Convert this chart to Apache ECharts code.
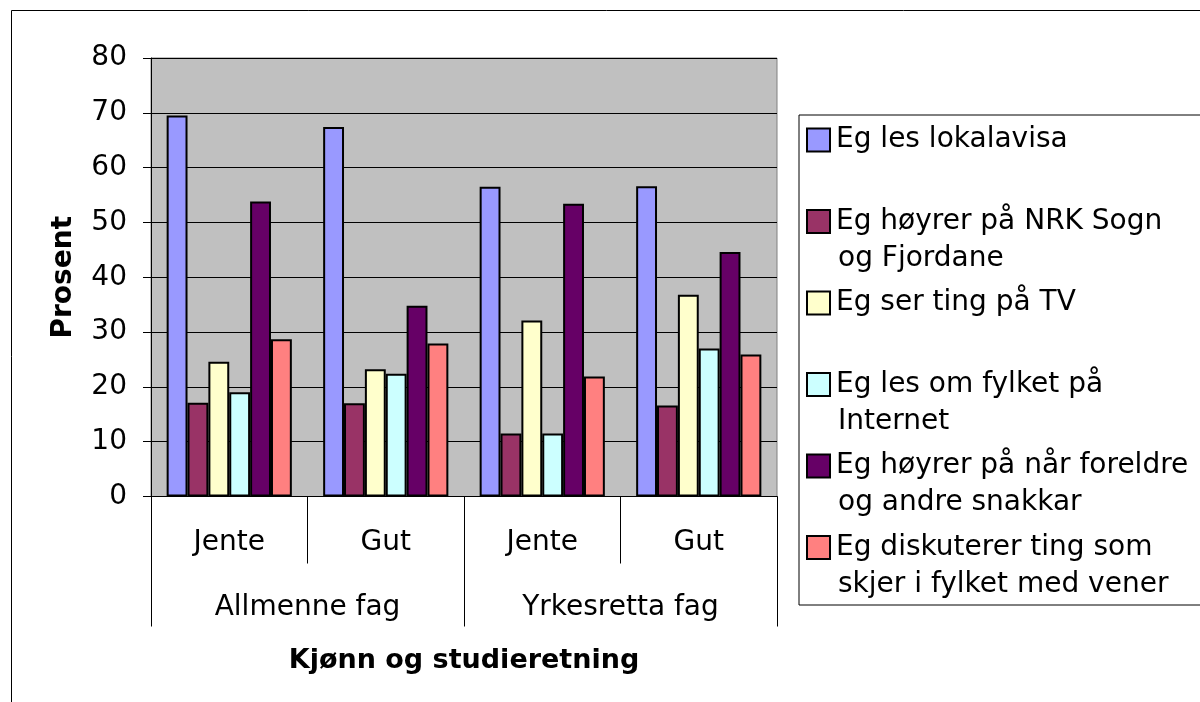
<!DOCTYPE html>
<html>
<head>
<meta charset="utf-8">
<script src="https://cdn.jsdelivr.net/npm/echarts@6/dist/echarts.min.js"></script>
<style>html,body{margin:0;padding:0;background:#fff}#c{width:1200px;height:702px}</style>
</head>
<body>
<div id="c"></div>
<script>
const categories = ['Jente', 'Gut', 'Jente', 'Gut'];
const groups = ['Allmenne fag', 'Yrkesretta fag'];
const yTicks = [0, 10, 20, 30, 40, 50, 60, 70, 80];
const seriesNames = [
  'Eg les lokalavisa',
  'Eg høyrer på NRK Sogn og Fjordane',
  'Eg ser ting på TV',
  'Eg les om fylket på Internet',
  'Eg høyrer på når foreldre og andre snakkar',
  'Eg diskuterer ting som skjer i fylket med vener'
];
const legendLines = [
  ['Eg les lokalavisa', ' '],
  ['Eg høyrer på NRK Sogn', 'og Fjordane'],
  ['Eg ser ting på TV', ' '],
  ['Eg les om fylket på', 'Internet'],
  ['Eg høyrer på når foreldre', 'og andre snakkar'],
  ['Eg diskuterer ting som', 'skjer i fylket med vener']
];
const lokalavisa = [69.5, 67.4, 56.5, 56.6];
const nrk = [17.1, 17.0, 11.5, 16.6];
const tv = [24.6, 23.2, 32.1, 36.8];
const internet = [19.0, 22.4, 11.5, 27.0];
const foreldre = [53.8, 34.8, 53.4, 44.6];
const vener = [28.7, 27.9, 21.9, 25.9];
const colors = ['#9999FF', '#993366', '#FFFFCC', '#CCFFFF', '#660066', '#FF8080'];

const FONT = 'DejaVu Sans';
const values = [lokalavisa, nrk, tv, internet, foreldre, vener];

const rich = {
  g: { width: 7, height: 21 },
  ind: { width: 30, height: 21 },
  t: { fontFamily: FONT, fontSize: 28, lineHeight: 37, color: '#000' }
};
colors.forEach((c, i) => {
  rich['m' + i] = { width: 21, height: 21, backgroundColor: c, borderColor: '#000', borderWidth: 2 };
});

const chart = echarts.init(document.getElementById('c'));
chart.setOption({
  animation: false,
  color: colors,
  graphic: [{
    type: 'rect',
    shape: { x: 11.5, y: 10.5, width: 1300, height: 900 },
    style: { fill: 'none', stroke: '#000', lineWidth: 1 },
    z: -10
  }],
  grid: {
    left: 151, top: 58, right: 423, bottom: 205.5,
    show: true, backgroundColor: '#C0C0C0', borderColor: '#808080', borderWidth: 1
  },
  legend: {
    orient: 'vertical',
    left: 799, top: 115,
    padding: [6.5, 60, 2, 4],
    itemGap: 7.5,
    icon: 'none',
    itemWidth: 0, itemHeight: 0,
    borderColor: '#000', borderWidth: 1,
    selectedMode: false,
    data: seriesNames,
    formatter: function (name) {
      const i = seriesNames.indexOf(name);
      const l = legendLines[i];
      return '{m' + i + '|}{g|}{t|' + l[0] + '}\n{ind|}{t|' + l[1] + '}';
    },
    textStyle: { rich: rich, fontFamily: FONT, fontSize: 28, lineHeight: 37, color: '#000' }
  },
  xAxis: [{
    type: 'category',
    position: 'bottom',
    data: categories,
    axisLine: { show: true, lineStyle: { color: '#000', width: 1 } },
    axisTick: { show: true, length: 67, lineStyle: { color: '#000', width: 1 } },
    axisLabel: { margin: 30.5, fontFamily: FONT, fontSize: 28, lineHeight: 32, color: '#000' }
  }, {
    type: 'category',
    position: 'bottom',
    data: groups,
    axisLine: { show: false },
    axisTick: { show: true, length: 130, lineStyle: { color: '#000', width: 1 } },
    axisLabel: { margin: 95.5, fontFamily: FONT, fontSize: 28, lineHeight: 32, color: '#000' },
    name: 'Kjønn og studieretning',
    nameLocation: 'middle',
    nameGap: 148.5,
    nameTextStyle: { fontFamily: FONT, fontSize: 27, fontWeight: 'bold', lineHeight: 32, color: '#000' }
  }],
  yAxis: {
    type: 'value',
    min: yTicks[0], max: yTicks[yTicks.length - 1], interval: 10,
    axisLine: { show: true, lineStyle: { color: '#000', width: 1 } },
    axisTick: { show: true, length: 8, lineStyle: { color: '#000' } },
    axisLabel: { margin: 24, fontFamily: FONT, fontSize: 28, color: '#000' },
    splitLine: { show: true, lineStyle: { color: '#000', width: 1 } },
    name: 'Prosent',
    nameLocation: 'middle',
    nameGap: 73,
    nameTextStyle: { fontFamily: FONT, fontSize: 28, fontWeight: 'bold', color: '#000' }
  },
  series: values.map((v, i) => ({
    type: 'bar',
    name: seriesNames[i],
    data: v,
    barGap: '0%',
    barCategoryGap: '20%',
    itemStyle: { color: colors[i], borderColor: '#000', borderWidth: 2 }
  }))
});
</script>
</body>
</html>
